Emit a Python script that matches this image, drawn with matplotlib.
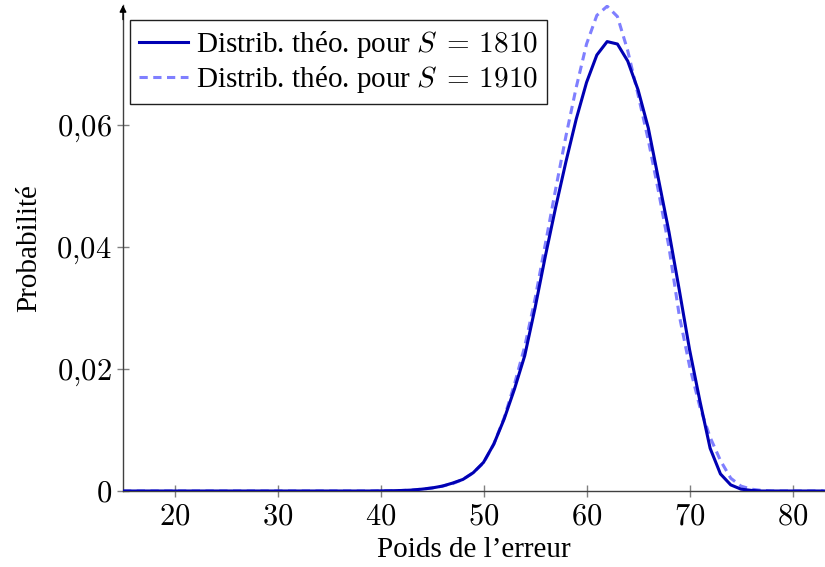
import matplotlib
matplotlib.use("Agg")
import matplotlib.pyplot as plt

plt.rcParams['mathtext.fontset'] = 'cm'
plt.rcParams['font.family'] = ['Liberation Serif', 'DejaVu Serif']

# Error weights (integers)
weights = list(range(15, 84))

# Theoretical distribution for S = 1810
p_1810_nonzero = {
    40: 0.00002, 41: 0.00004, 42: 0.00008, 43: 0.00015, 44: 0.0003,
    45: 0.0005, 46: 0.0008, 47: 0.0013, 48: 0.0019, 49: 0.0030,
    50: 0.0047, 51: 0.0077, 52: 0.0118, 53: 0.0167, 54: 0.0222,
    55: 0.0300, 56: 0.0385, 57: 0.0465, 58: 0.0540, 59: 0.0610,
    60: 0.0670, 61: 0.0715, 62: 0.0737, 63: 0.0733, 64: 0.0705,
    65: 0.0658, 66: 0.0595, 67: 0.0510, 68: 0.0425, 69: 0.0330,
    70: 0.0232, 71: 0.0148, 72: 0.0070, 73: 0.0028, 74: 0.0010,
    75: 0.0003, 76: 0.0001,
}
# Theoretical distribution for S = 1910
p_1910_nonzero = {
    40: 0.00002, 41: 0.00004, 42: 0.00008, 43: 0.00015, 44: 0.0003,
    45: 0.0005, 46: 0.0008, 47: 0.0012, 48: 0.0019, 49: 0.0030,
    50: 0.0046, 51: 0.0077, 52: 0.0120, 53: 0.0175, 54: 0.0237,
    55: 0.0315, 56: 0.0405, 57: 0.0495, 58: 0.0582, 59: 0.0662,
    60: 0.0733, 61: 0.0780, 62: 0.0795, 63: 0.0778, 64: 0.0722,
    65: 0.0650, 66: 0.0575, 67: 0.0490, 68: 0.0400, 69: 0.0288,
    70: 0.0205, 71: 0.0138, 72: 0.0088, 73: 0.0050, 74: 0.0021,
    75: 0.0008, 76: 0.0003, 77: 0.0001,
}
p_1810 = [p_1810_nonzero.get(w, 0.0) for w in weights]
p_1910 = [p_1910_nonzero.get(w, 0.0) for w in weights]

xticks = [20, 30, 40, 50, 60, 70, 80]
yticks = [0, 0.02, 0.04, 0.06]
ytick_labels = [r'$0$', r'$0{,}02$', r'$0{,}04$', r'$0{,}06$']

fig = plt.figure(figsize=(8.25, 5.67), dpi=100)
ax = fig.add_axes([123/825, 1-491/567, 1-123/825, 486/567])

solid_color = '#0000b3'
dash_color = '#7f7fff'

ax.plot(weights, p_1810, color=solid_color, lw=2.2,
        label=r'Distrib. théo. pour $S\;=\,1810$', zorder=3)
ax.plot(weights, p_1910, color=dash_color, lw=2.2, dashes=(2.7, 1.8),
        label=r'Distrib. théo. pour $S\;=\,1910$', zorder=2)

ax.set_xlim(15, 83.15)
ax.set_ylim(0, 0.0797)

for s in ['top', 'right']:
    ax.spines[s].set_visible(False)
for s in ['left', 'bottom']:
    ax.spines[s].set_color('#404040')
    ax.spines[s].set_linewidth(1.0)

ax.set_xticks(xticks)
ax.set_xticklabels([rf'${t}$' for t in xticks])
ax.set_yticks(yticks)
ax.set_yticklabels(ytick_labels)
ax.tick_params(direction='inout', length=8, width=1, color='#808080',
               labelsize=22, pad=4)

ax.annotate('', xy=(0, 1.0), xycoords='axes fraction', xytext=(0, 0.97),
            arrowprops=dict(arrowstyle='-|>', color='black', lw=1,
                            mutation_scale=10, shrinkA=0, shrinkB=0))

ax.set_xlabel("Poids de l’erreur", fontsize=21, labelpad=4)
ax.set_ylabel("Probabilité", fontsize=21, labelpad=10)

leg = ax.legend(loc='upper left', bbox_to_anchor=(0.01, 0.969),
                borderaxespad=0, fontsize=21, frameon=True, fancybox=False,
                edgecolor='#202020', framealpha=1, handlelength=1.7,
                handletextpad=0.25, borderpad=0.3, labelspacing=0.15)
leg.get_frame().set_linewidth(1.0)

fig.savefig('out.png', dpi=100)
